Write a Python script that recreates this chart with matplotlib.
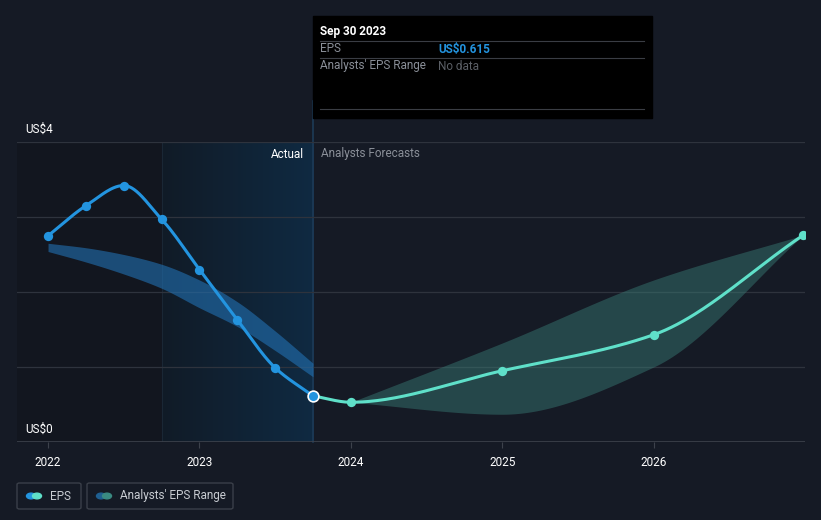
import numpy as np
import matplotlib

matplotlib.use("Agg")

import matplotlib.pyplot as plt
from matplotlib.patches import FancyBboxPatch, Rectangle

plt.rcParams["font.family"] = ["Roboto", "DejaVu Sans"]

# EPS history (actual) and analyst forecast, in US$
eps_dates = [2022.0, 2022.25, 2022.5, 2022.75, 2023.0, 2023.25, 2023.5, 2023.75]
eps_values = [2.75, 3.15, 3.42, 2.97, 2.30, 1.63, 0.99, 0.615]

forecast_dates = [2023.75, 2024.0, 2025.0, 2026.0, 2026.99]
forecast_values = [0.615, 0.53, 0.95, 1.43, 2.76]

# analysts' EPS range, past estimates and future forecasts
past_range_dates = [2022.0, 2022.25, 2022.5, 2022.75, 2023.0, 2023.25, 2023.5, 2023.75]
past_range_low = [2.54, 2.40, 2.24, 2.05, 1.79, 1.54, 1.22, 0.87]
past_range_high = [2.65, 2.59, 2.50, 2.37, 2.16, 1.87, 1.48, 1.05]

forecast_range_dates = [2024.0, 2025.0, 2026.0, 2026.99]
forecast_range_low = [0.53, 0.37, 1.00, 2.76]
forecast_range_high = [0.53, 1.32, 2.16, 2.76]

year_ticks = [2022, 2023, 2024, 2025, 2026]

BG = "#151a25"
DARK = "#12161f"
GRID = "#2e333d"
BLUE = "#2394df"
TEAL = "#5fe0c9"


def smooth(xs, ys, n=200):
    # monotone cubic (Fritsch-Carlson) so curves look like the web chart
    xs = np.asarray(xs, float)
    ys = np.asarray(ys, float)
    h = np.diff(xs)
    d = np.diff(ys) / h
    m = np.zeros_like(ys)
    m[0], m[-1] = d[0], d[-1]
    for i in range(1, len(xs) - 1):
        if d[i - 1] * d[i] <= 0:
            m[i] = 0.0
        else:
            w1 = 2 * h[i] + h[i - 1]
            w2 = h[i] + 2 * h[i - 1]
            m[i] = (w1 + w2) / (w1 / d[i - 1] + w2 / d[i])
    out_x, out_y = [], []
    for i in range(len(xs) - 1):
        t = np.linspace(0, 1, n // (len(xs) - 1) + 2)
        h00 = 2 * t**3 - 3 * t**2 + 1
        h10 = t**3 - 2 * t**2 + t
        h01 = -2 * t**3 + 3 * t**2
        h11 = t**3 - t**2
        yy = h00 * ys[i] + h10 * h[i] * m[i] + h01 * ys[i + 1] + h11 * h[i] * m[i + 1]
        out_x.extend(xs[i] + t * h[i])
        out_y.extend(yy)
    return np.array(out_x), np.array(out_y)


fig = plt.figure(figsize=(8.21, 5.2), dpi=100, facecolor=BG)
ax = fig.add_axes([17 / 821, 78 / 520, 788 / 821, 300 / 520], facecolor=BG)
ax.set_xlim(2021.795, 2027.0)
ax.set_ylim(0, 4)

# shaded past area and highlighted last year
ax.axvspan(2021.795, 2022.75, color=DARK, zorder=0, lw=0)
grad = np.linspace(0, 1, 256).reshape(1, -1)
from matplotlib.colors import LinearSegmentedColormap
cmap = LinearSegmentedColormap.from_list("hl", ["#111b27", "#0f2a42"])
ax.imshow(grad, extent=[2022.75, 2023.75, 0, 4], aspect="auto", cmap=cmap, zorder=0.5)
ax.axvline(2022.75, color="#1a2735", lw=0.8, zorder=0.6)
ax.plot([2023.75, 2023.75], [0, 4.55], color="#1d3b57", lw=1.2, zorder=0.6, clip_on=False)

for v in [1, 2, 3, 4]:
    ax.axhline(v, color=GRID, lw=0.9, zorder=1)
ax.axhline(0, color="#3d424c", lw=1.2, zorder=1)

# range bands
px, plo = smooth(past_range_dates, past_range_low)
_, phi = smooth(past_range_dates, past_range_high)
ax.fill_between(px, plo, phi, color="#2271b3", alpha=0.6, lw=0, zorder=2)

fx, flo = smooth(forecast_range_dates, forecast_range_low)
_, fhi = smooth(forecast_range_dates, forecast_range_high)
ax.fill_between(fx, flo, fhi, color="#3a7f78", alpha=0.45, lw=0, zorder=2)

# EPS lines
ex, ey = smooth(eps_dates, eps_values)
ax.plot(ex, ey, color=BLUE, lw=2.2, zorder=3, solid_capstyle="round")
ax.scatter(eps_dates[:-1], eps_values[:-1], s=45, color=BLUE, zorder=4, lw=0)

cx, cy = smooth(forecast_dates, forecast_values)
ax.plot(cx, cy, color=TEAL, lw=2.2, zorder=3, solid_capstyle="round")
ax.scatter(forecast_dates[1:], forecast_values[1:], s=45, color=TEAL, zorder=4, lw=0)
ax.scatter([eps_dates[-1]], [eps_values[-1]], s=60, color=BLUE, edgecolor="white",
           lw=1.2, zorder=5)

ax.set_xticks(year_ticks)
ax.set_xticklabels([str(y) for y in year_ticks], color="white", fontsize=8.5)
ax.tick_params(axis="x", length=4, color="#3d424c", pad=6)
ax.set_yticks([])
for side in ax.spines.values():
    side.set_visible(False)

ax.text(0.01, 4.08, "US$4", color="white", fontsize=8.5, va="bottom", ha="left",
        transform=ax.get_yaxis_transform())
ax.text(0.01, 0.08, "US$0", color="white", fontsize=8.5, va="bottom", ha="left",
        transform=ax.get_yaxis_transform())
ax.text(2023.69, 3.84, "Actual", color="white", fontsize=8.5, ha="right", va="center")
ax.text(2023.8, 3.84, "Analysts Forecasts", color="#8a8f98", fontsize=8.5,
        ha="left", va="center")

# tooltip box
fig.patches.append(Rectangle((313 / 821, 1 - 118 / 520), 339 / 821, 102 / 520,
                             transform=fig.transFigure, color="black", zorder=10))
for yy in [41, 58, 109]:
    fig.lines.append(plt.Line2D([320 / 821, 644 / 821], [1 - yy / 520] * 2,
                                transform=fig.transFigure, color="#3a3d44", lw=0.8,
                                zorder=11))
fig.text(320 / 821, 1 - 31 / 520, "Sep 30 2023", color="white", fontsize=8.5,
         fontweight="bold", va="center", zorder=12)
fig.text(320 / 821, 1 - 49 / 520, "EPS", color="#8a8f98", fontsize=8.5, va="center",
         zorder=12)
fig.text(438 / 821, 1 - 49 / 520, "US$0.615", color=BLUE, fontsize=8.5,
         fontweight="bold", va="center", zorder=12)
fig.text(320 / 821, 1 - 66 / 520, "Analysts' EPS Range", color="#8a8f98", fontsize=8.5,
         va="center", zorder=12)
fig.text(438 / 821, 1 - 66 / 520, "No data", color="#5b5f66", fontsize=8.5,
         va="center", zorder=12)

# legend boxes
for x0, w in [(17, 64), (87, 146)]:
    fig.patches.append(FancyBboxPatch((x0 / 821, 1 - 509 / 520), w / 821, 26 / 520,
                                      boxstyle="round,pad=0,rounding_size=0.003",
                                      transform=fig.transFigure, fc=BG, ec="#3a3f49",
                                      lw=1))
for cx0, c1, c2 in [(31, BLUE, TEAL), (101, "#1f5f91", "#3a8a82")]:
    fig.patches.append(plt.Circle(((cx0) / 821, 1 - 496 / 520), 4.5 / 821,
                                  transform=fig.transFigure, color=c1))
    fig.patches.append(plt.Circle(((cx0 + 6) / 821, 1 - 496 / 520), 4.5 / 821,
                                  transform=fig.transFigure, color=c2))
fig.text(50 / 821, 1 - 496 / 520, "EPS", color="#c8ccd2", fontsize=8.5, va="center")
fig.text(120 / 821, 1 - 496 / 520, "Analysts' EPS Range", color="#c8ccd2", fontsize=8.5,
         va="center")

fig.savefig("out.png", dpi=100, facecolor=BG)
